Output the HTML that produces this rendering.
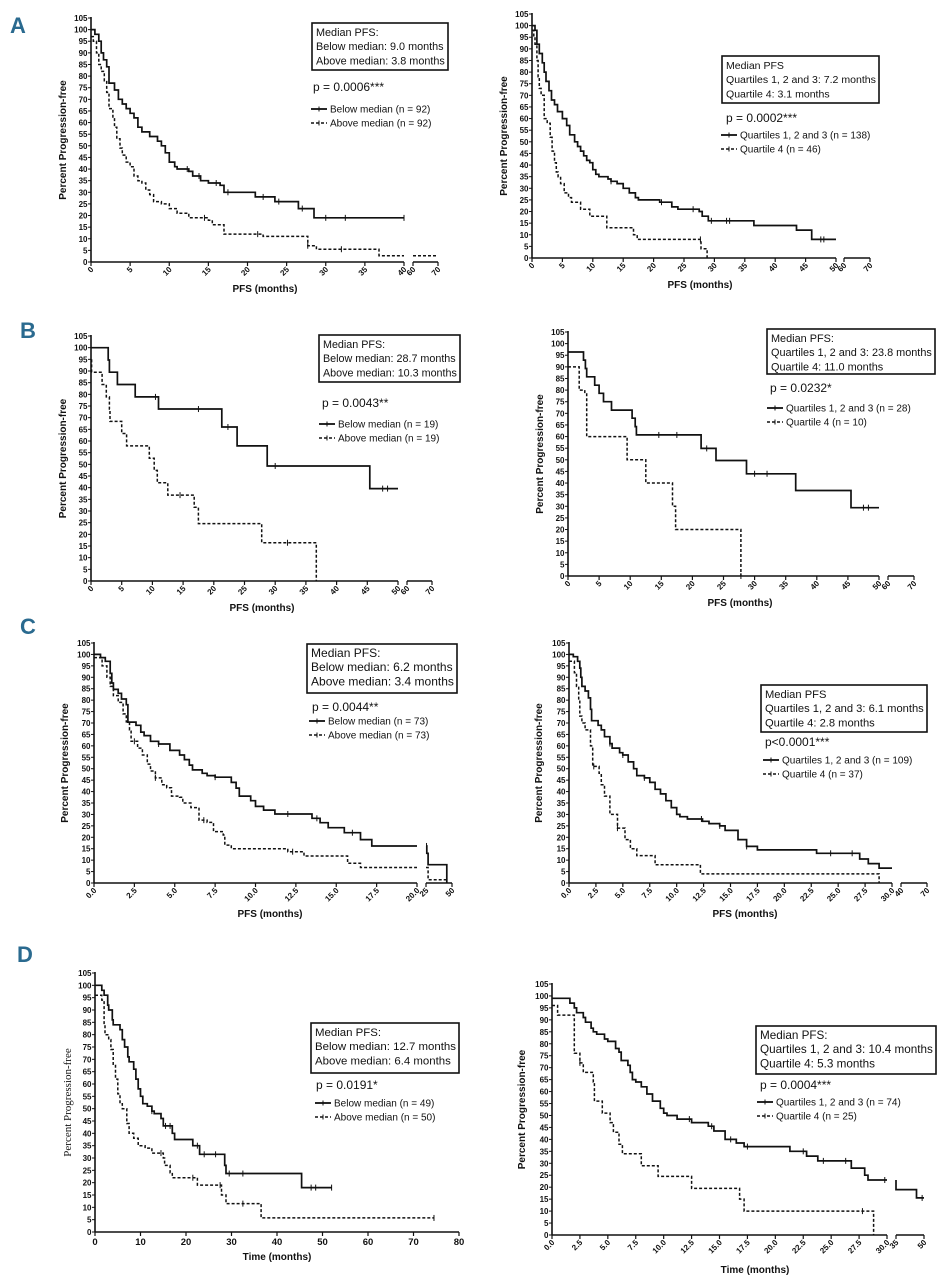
<!DOCTYPE html>
<html><head><meta charset="utf-8">
<style>
html,body{margin:0;padding:0;background:#fff;}
svg{display:block;font-family:"Liberation Sans",Arial,sans-serif;}
.tk{font-size:8px;font-weight:bold;fill:#111;}
.ttl{font-size:10px;font-weight:bold;fill:#111;}
.box{font-size:12.5px;fill:#111;}
.pv{font-size:12px;fill:#111;}
.lg{font-size:10px;fill:#111;}
.let{font-size:22px;font-weight:bold;fill:#2a6a8f;font-family:"Liberation Sans Narrow","Liberation Sans",sans-serif;}
</style></head>
<body>
<svg id="fig" width="950" height="1280" viewBox="0 0 950 1280" xmlns="http://www.w3.org/2000/svg"></svg>
<script>
// ---------- DATA (time in months, value = percent progression-free after step) ----------
const aLeftSolidT = [0,0.5,1,1.3,1.6,2,2.3,3,3.5,4,4.5,5,5.5,6,6.5,7.5,8.5,9,9.5,10,10.7,11,12.5,13,14,15,16.5,17,21,23.5,26.5,28.5,40];
const aLeftSolidS = [100,98,95,90,87,84,77,74,70,68,66,64,62,58,56,54,52,50,47,43,41,40,39,37,35,34,33,30,28,26,23,19,19];
const aLeftSolidC = [12.3,13.8,16,17.5,22,24,27,30,32.5,40];
const aLeftDashT = [0,0.3,0.7,1,1.3,1.7,2,2.3,2.8,3,3.3,3.7,4,4.5,5,5.5,6,6.5,7,7.5,8,9,10,11,12.5,15,15.5,17,22,27.7,28.8,36.8,70];
const aLeftDashS = [97,95,90,85,82,78,73,66,62,58,53,49,46,43,41,37,35,34,31,29,26,25,23,21,19,18,16,12,11,7,5.5,2.7,2.7];
const aLeftDashC = [14.5,21.3,27.7,32];

const aRightSolidT = [0,0.5,0.8,1.2,1.7,2,2.3,2.8,3.2,3.7,4.2,5,5.7,6.2,7,7.5,8,8.5,9,9.5,10,10.5,11,12.5,13,14,15,16,17,17.5,21,23,24,27.5,28,29,36.5,43.5,46,50];
const aRightSolidS = [100,98,92,88,84,80,76,72,68,66,63,60,57,53,50,48,46,44,42,41,38,36,35,34,33,32,30,28,26,25,24,22,21,20,18,16,14,12,8,8];
const aRightSolidC = [13,21.3,26.5,29.5,32,32.5,47.5,48];
const aRightDashT = [0,0.3,0.5,0.8,1,1.2,1.5,2,2.5,3,3.3,3.7,4,4.3,4.7,5.3,6,6.5,8,9.5,12,12.3,16.7,17.3,27.8,28.8];
const aRightDashS = [98,95,92,85,78,73,70,60,58,52,46,41,37,35,32,28,26,24,21,18,18,13,10,8,4,0];
const aRightDashC = [27.7];

const bLeftSolidT = [0,2.8,3,4.3,7.2,11,21.3,23.8,28.7,45.4,50];
const bLeftSolidS = [100,94.7,89.5,84.2,78.9,73.7,66,57.9,49.3,39.6,39.6];
const bLeftSolidC = [10.5,17.5,22.3,30,47.5,48.3];
const bLeftDashT = [0,0.1,1.8,2.5,3,3.1,5,5.8,9.5,10.3,10.8,12.5,16.8,17.5,27.8,36.7];
const bLeftDashS = [94.7,89.5,84.2,78.9,73.7,68.4,63.2,57.9,52.6,47.4,42.1,36.8,31.6,24.6,16.4,0];
const bLeftDashC = [14.5,32];

const bRightSolidT = [0,2.5,2.8,3,4.3,5,5.7,7,10.3,10.8,11,21.4,23.8,28.7,36.6,45.5,50];
const bRightSolidS = [96.4,92.9,89.3,85.7,82.1,78.6,75,71.4,67.9,64.3,60.7,54.9,49.7,44,36.8,29.4,29.4];
const bRightSolidC = [14.6,17.5,22.3,30,32,47.5,48.3];
const bRightDashT = [0,1.8,2.7,3,9.5,12.5,16.8,17.3,27.8];
const bRightDashS = [90,80,79,60,50,40,30,20,0];
const bRightDashC = [27.8];

const cLeftSolidT = [0,0.4,0.7,1,1.1,1.2,1.5,1.7,2,2.1,2.6,2.9,3.1,3.5,4,4.7,5.3,5.6,5.9,6.1,6.7,7,7.5,8.5,8.8,9,9.7,10,10.5,11.2,13.5,14,14.5,15.5,16.5,17.2,25.8,27,29,45];
const cLeftSolidS = [100,98.6,97,91.7,87.5,84.7,83,80.5,78,70.4,69,66,64.5,62,60.8,58,56,54,51.6,49.5,48,47,46.3,44,41.5,38,36,33.5,31.9,30.2,28.3,26.4,24.2,22,19,16.2,13,8,8,0];
const cLeftSolidC = [4,7.5,12,13.8,16,25.5];
const cLeftDashT = [0,0.5,0.8,1,1.2,1.5,1.8,2,2.2,2.3,2.7,3,3.3,3.5,3.8,4.2,4.5,4.8,5.3,5.5,6,6.5,7,7.4,8,8.1,8.5,12,13,15.7,16.5,27,46];
const cLeftDashS = [98.6,95,90,86,82,79,74,70.5,67,62,59,56,52,49,46,43,41.7,38,37.5,35,33,27.5,26.5,22.5,21,16.6,15,13.7,11.8,8.6,6.8,1.4,1.4];
const cLeftDashC = [2.5,3.8,6.8,12.3];

const cRightSolidT = [0,0.4,0.8,1,1.1,1.2,1.5,1.8,2,2.1,2.7,3,3.3,3.8,4,4.7,5,5.5,6,6.3,7,7.5,8,8.5,9,9.5,10,10.3,11,12.4,13,14,14.5,15.7,16.5,17.5,23,27,27.8,28.8,30];
const cRightSolidS = [100,99,97,94,90,86,84,81,76,71,69,67,64,61,59,57,56,53,50,47,46,44,41,39,36,33,30,29,28,27,26,25,23,19,16,14.5,13,10.5,8.5,6.5,6.5];
const cRightSolidC = [3.8,5,7,12.3,14,16.5,24.3,26.3];
const cRightDashT = [0,0.5,0.7,0.9,1,1.2,1.5,2,2.2,2.8,3,3.3,3.8,4.5,5.2,5.7,6.3,8,12.2,28.8];
const cRightDashS = [97,92,86,80,73,70,67,60,51,48,43,38,30,24,19,15,12,8,4,0];
const cRightDashC = [2.3,4.5];

const dLeftSolidT = [0,1.5,2,2.8,3,3.8,4,5.5,6,6.5,7.2,7.5,8.5,9,9.5,10,10.5,11.5,12.5,13,14.5,15,17,17.5,21.5,23,28.5,28.8,45.4,52];
const dLeftSolidS = [100,98,96,92,90,86,84,82,78,75,71,69,66,62,58,55,52,51,49,48,46,43,40,37.5,35,31.5,27,23.7,18,18];
const dLeftSolidC = [12.5,15.5,16.5,22.5,24,26.5,29.5,32.5,47.5,48.5,52];
const dLeftDashT = [0,1.5,2,2.2,3,3.5,4,4.5,5,5.5,6,7,7.5,8.5,9.5,11,12.5,15,15.3,16.5,17,22.5,27.8,28.8,36.5,74.5];
const dLeftDashS = [96,94,84,80,78,74,68,62,56,52,50,44,40,38,35,34,32,30,27,24,22,19,15,11.5,5.7,5.7];
const dLeftDashC = [14.5,21.5,27.5,32.5,74.5];

const dRightSolidT = [0,1.6,2,2.2,2.8,3,3.5,3.7,4,4.7,5,5.7,6,6.2,6.8,7,7.2,7.5,8,8.5,9,9.7,10,10.3,11.2,12.5,14,14.5,15.5,16.5,17.2,21.3,22.8,23.8,26.8,28,28.3,30.1,46,50];
const dRightSolidS = [99,97,95,93,91,89,86.5,85,84,82,81,78,76.5,73,71,68,65,64,62,59,56,53,51,50,48.5,47,45.5,43.5,40,38.5,37,35,33,31,28,25,23,19,15.5,15.5];
const dRightSolidC = [12.3,14.3,16,17.5,22.5,24.3,26.3,29.8,49];
const dRightDashT = [0,0.5,2,2.5,2.8,3.7,3.8,4.5,5.2,5.5,6,6.3,8,9.5,12.5,16.8,17.2,28.8];
const dRightDashS = [96,92,76,72,68,64,56,51,47,43,38,34,29,24.5,19.5,15,10,0];
const dRightDashC = [2.5,27.8];

// tick label arrays
const yTicks105 = [0,5,10,15,20,25,30,35,40,45,50,55,60,65,70,75,80,85,90,95,100,105];
const xTicksA = [0,5,10,15,20,25,30,35,40];
const xTicksAB2 = [60,70];
const xTicks50 = [0,5,10,15,20,25,30,35,40,45,50];
const xTicksC1 = [0,2.5,5,7.5,10,12.5,15,17.5,20];
const xTicksC2 = [25,50];
const xTicks30 = [0,2.5,5,7.5,10,12.5,15,17.5,20,22.5,25,27.5,30];
const xTicksCR2 = [40,70];
const xTicksDR2 = [35,50];
const xTicksD = [0,10,20,30,40,50,60,70,80];

// ---------- RENDER ----------
const NS = "http://www.w3.org/2000/svg";
const svg = document.getElementById('fig');
function mk(tag, attrs, parent){
  const e = document.createElementNS(NS, tag);
  for (const k in attrs) e.setAttribute(k, attrs[k]);
  (parent||svg).appendChild(e);
  return e;
}
function txt(str, attrs, parent){ const t = mk('text', attrs, parent); t.textContent = str; return t; }

function makeScales(P){
  const sy = v => P.y0 - (v/105)*(P.y0 - P.y105);
  const sx = t => {
    if (t <= P.b1 || !P.s2) return P.ax + (t/P.b1)*(P.x1 - P.ax);
    if (t < P.s2[0]) return P.s2[2];
    return P.s2[2] + (t - P.s2[0])/(P.s2[1]-P.s2[0])*(P.s2[3]-P.s2[2]);
  };
  return {sx, sy};
}
function stepPath(T, S, P, sc){
  let d = 'M' + sc.sx(T[0]).toFixed(1) + ' ' + sc.sy(S[0]).toFixed(1);
  for (let i=1;i<T.length;i++){
    const prevT = T[i-1], t = T[i], v = S[i-1];
    if (P.s2 && prevT <= P.b1 && t > P.b1){
      d += ' H' + sc.sx(P.b1).toFixed(1);
      d += ' M' + sc.sx(Math.min(P.s2[0], t)).toFixed(1) + ' ' + sc.sy(v).toFixed(1);
    }
    d += ' H' + sc.sx(t).toFixed(1) + ' V' + sc.sy(S[i]).toFixed(1);
  }
  return d;
}
function valAt(T,S,t){ let v=S[0]; for(let i=0;i<T.length;i++){ if(T[i]<=t) v=S[i]; } return v; }

function panel(P){
  const g = mk('g', {});
  
  
  const sc = makeScales(P);
  const ya = mk('line', {x1:P.ax, y1:P.y0, x2:P.ax, y2:P.y105-1, stroke:'#111','stroke-width':1.6}, g);
   
  P.yt.forEach(v=>{
    mk('line',{x1:P.ax-3,y1:sc.sy(v),x2:P.ax,y2:sc.sy(v),stroke:'#111','stroke-width':1}, g);
    const t = txt(String(v), {x:P.ax-3.5, y:sc.sy(v)+3, 'text-anchor':'end', class:'tk'}, g);
     
  });
  const xa = mk('line', {x1:P.ax, y1:P.y0, x2:P.x1, y2:P.y0, stroke:'#111','stroke-width':1.6}, g);
   
  const drawXT = (v, lbl) => {
    const x = sc.sx(v);
    mk('line',{x1:x,y1:P.y0,x2:x,y2:P.y0+4,stroke:'#111','stroke-width':1.2}, g);
    let t;
    if (P.rot){
      t = txt(lbl, {x:x+3, y:P.y0+8, 'text-anchor':'end', class:'tk', transform:`rotate(-45 ${x+3} ${P.y0+8})`}, g);
    } else {
      t = txt(lbl, {x:x, y:P.y0+13, 'text-anchor':'middle', class:'tk', style:'font-size:9.5px'}, g);
    }
     
  };
  P.xt1.forEach(v=>drawXT(v, P.fmt ? v.toFixed(1) : String(v)));
  if (P.s2){
    const xa2 = mk('line', {x1:P.s2[2], y1:P.y0, x2:P.s2[3], y2:P.y0, stroke:'#111','stroke-width':1.6}, g);
     
    P.xt2.forEach(v=>drawXT(v, String(v)));
  }
  const yl = txt('Percent Progression-free', {x:0,y:0,'text-anchor':'middle',class:'ttl',
    transform:`translate(${P.ylx} ${(P.y0+P.y105)/2}) rotate(-90)`, style:P.serifY?'font-family:"Liberation Serif",serif;font-weight:normal;font-size:11px':''}, g);
   
  const xl = txt(P.xtitle, {x:P.xtx, y:P.xty, 'text-anchor':'middle', class:'ttl'}, g);
   
  P.series.forEach(s=>{
    const p = mk('path', {d:stepPath(s.T, s.S, P, sc), fill:'none', stroke:'#111','stroke-width':s.dash?1.5:1.7,
      'stroke-dasharray': s.dash ? '3 2' : 'none'}, g);
    
    
    s.C.forEach(c=>{
      const x = sc.sx(c), y = sc.sy(valAt(s.T,s.S,c));
      const m = mk('line',{x1:x,y1:y-3,x2:x,y2:y+3,stroke:'#111','stroke-width':1}, g);
       
    });
  });
  const bx = mk('rect',{x:P.box[0],y:P.box[1],width:P.box[2]-P.box[0],height:P.box[3]-P.box[1],fill:'#fff',stroke:'#111','stroke-width':1.6}, g);
   
  const avail = P.box[2]-P.box[0]-7;
  const lines = P.boxLines.map((l,i)=>{
    const t = txt(l, {x:P.box[0]+4, y:P.box[1]+13+i*14.2, class:'box'}, g);
     
    return t;
  });
  let maxLen = 0;
  lines.forEach(t=>{ maxLen = Math.max(maxLen, t.getComputedTextLength()); });
  if (maxLen > avail){
    const fs = (12.5*avail/maxLen).toFixed(2);
    lines.forEach(t=>{ t.style.fontSize = fs + 'px'; });
  }
  const pt = txt(P.p, {x:P.px, y:P.py, class:'pv'}, g);
   
  P.leg.forEach((l,i)=>{
    const y = P.ly + i*14;
    const lg = mk('g',{}, g);
    
    
    mk('line',{x1:P.lx,y1:y,x2:P.lx+16,y2:y,stroke:'#111','stroke-width':i?1.5:1.8,'stroke-dasharray':i?'3 2':'none'}, lg);
    mk('line',{x1:P.lx+8,y1:y-2.5,x2:P.lx+8,y2:y+2.5,stroke:'#111','stroke-width':1}, lg);
    txt(l, {x:P.lx+19, y:y+3.5, class:'lg'}, lg);
  });
}

const panels = [
 {name:'panel-a-left', ax:91, y0:262, y105:18, b1:40, x1:404, s2:[60,70,413,438], rot:true, yt:yTicks105, xt1:xTicksA, xt2:xTicksAB2,
  ylx:66, xtitle:'PFS (months)', xtx:265, xty:292,
  series:[{name:'curve-below-median',T:aLeftSolidT,S:aLeftSolidS,C:aLeftSolidC},{name:'curve-above-median',T:aLeftDashT,S:aLeftDashS,C:aLeftDashC,dash:true}],
  box:[312,23,448,70], boxLines:['Median PFS:','Below median: 9.0 months','Above median: 3.8 months'], p:'p = 0.0006***', px:313, py:91,
  leg:['Below median (n = 92)','Above median (n = 92)'], lx:311, ly:109,
 },
 {name:'panel-a-right', ax:532, y0:258, y105:14, b1:50, x1:836, s2:[60,70,844,870], rot:true, yt:yTicks105, xt1:xTicks50, xt2:xTicksAB2,
  ylx:507, xtitle:'PFS (months)', xtx:700, xty:288,
  series:[{name:'curve-quartiles-1-3',T:aRightSolidT,S:aRightSolidS,C:aRightSolidC},{name:'curve-quartile-4',T:aRightDashT,S:aRightDashS,C:aRightDashC,dash:true}],
  box:[722,56,879,103], boxLines:['Median PFS','Quartiles 1, 2 and 3: 7.2 months','Quartile 4: 3.1 months'], p:'p = 0.0002***', px:726, py:122,
  leg:['Quartiles 1, 2 and 3 (n = 138)','Quartile 4 (n = 46)'], lx:721, ly:135,
 },
 {name:'panel-b-left', ax:91, y0:581, y105:336, b1:50, x1:398, s2:[60,70,407,432], rot:true, yt:yTicks105, xt1:xTicks50, xt2:xTicksAB2,
  ylx:66, xtitle:'PFS (months)', xtx:262, xty:611,
  series:[{name:'curve-below-median',T:bLeftSolidT,S:bLeftSolidS,C:bLeftSolidC},{name:'curve-above-median',T:bLeftDashT,S:bLeftDashS,C:bLeftDashC,dash:true}],
  box:[319,335,460,382], boxLines:['Median PFS:','Below median: 28.7 months','Above median: 10.3 months'], p:'p = 0.0043**', px:322, py:407,
  leg:['Below median (n = 19)','Above median (n = 19)'], lx:319, ly:424,
 },
 {name:'panel-b-right', ax:568, y0:576, y105:332, b1:50, x1:879, s2:[60,70,888,914], rot:true, yt:yTicks105, xt1:xTicks50, xt2:xTicksAB2,
  ylx:543, xtitle:'PFS (months)', xtx:740, xty:606,
  series:[{name:'curve-quartiles-1-3',T:bRightSolidT,S:bRightSolidS,C:bRightSolidC},{name:'curve-quartile-4',T:bRightDashT,S:bRightDashS,C:bRightDashC,dash:true}],
  box:[767,329,935,374], boxLines:['Median PFS:','Quartiles 1, 2 and 3: 23.8 months','Quartile 4: 11.0 months'], p:'p = 0.0232*', px:770, py:392,
  leg:['Quartiles 1, 2 and 3 (n = 28)','Quartile 4 (n = 10)'], lx:767, ly:408,
 },
 {name:'panel-c-left', ax:94, y0:883, y105:643, b1:20, x1:417, s2:[25,50,426,452], rot:true, fmt:true, yt:yTicks105, xt1:xTicksC1, xt2:xTicksC2,
  ylx:68, xtitle:'PFS (months)', xtx:270, xty:917,
  series:[{name:'curve-below-median',T:cLeftSolidT,S:cLeftSolidS,C:cLeftSolidC},{name:'curve-above-median',T:cLeftDashT,S:cLeftDashS,C:cLeftDashC,dash:true}],
  box:[307,644,457,693], boxLines:['Median PFS:','Below median: 6.2 months','Above median: 3.4 months'], p:'p = 0.0044**', px:312, py:711,
  leg:['Below median (n = 73)','Above median (n = 73)'], lx:309, ly:721,
 },
 {name:'panel-c-right', ax:569, y0:883, y105:643, b1:30, x1:892, s2:[40,70,901,927], rot:true, fmt:true, yt:yTicks105, xt1:xTicks30, xt2:xTicksCR2,
  ylx:542, xtitle:'PFS (months)', xtx:745, xty:917,
  series:[{name:'curve-quartiles-1-3',T:cRightSolidT,S:cRightSolidS,C:cRightSolidC},{name:'curve-quartile-4',T:cRightDashT,S:cRightDashS,C:cRightDashC,dash:true}],
  box:[761,685,927,732], boxLines:['Median PFS','Quartiles 1, 2 and 3: 6.1 months','Quartile 4: 2.8 months'], p:'p<0.0001***', px:765, py:746,
  leg:['Quartiles 1, 2 and 3 (n = 109)','Quartile 4 (n = 37)'], lx:763, ly:760,
 },
 {name:'panel-d-left', ax:95, y0:1232, y105:973, b1:80, x1:459, s2:null, rot:false, serifY:true, yt:yTicks105, xt1:xTicksD, xt2:[],
  ylx:71, xtitle:'Time (months)', xtx:277, xty:1260,
  series:[{name:'curve-below-median',T:dLeftSolidT,S:dLeftSolidS,C:dLeftSolidC},{name:'curve-above-median',T:dLeftDashT,S:dLeftDashS,C:dLeftDashC,dash:true}],
  box:[311,1023,459,1073], boxLines:['Median PFS:','Below median: 12.7 months','Above median: 6.4 months'], p:'p = 0.0191*', px:316, py:1089,
  leg:['Below median (n = 49)','Above median (n = 50)'], lx:315, ly:1103,
 },
 {name:'panel-d-right', ax:552, y0:1235, y105:984, b1:30, x1:887, s2:[35,50,896,924], rot:true, fmt:true, yt:yTicks105, xt1:xTicks30, xt2:xTicksDR2,
  ylx:525, xtitle:'Time (months)', xtx:755, xty:1273,
  series:[{name:'curve-quartiles-1-3',T:dRightSolidT,S:dRightSolidS,C:dRightSolidC},{name:'curve-quartile-4',T:dRightDashT,S:dRightDashS,C:dRightDashC,dash:true}],
  box:[756,1026,936,1074], boxLines:['Median PFS:','Quartiles 1, 2 and 3: 10.4 months','Quartile 4: 5.3 months'], p:'p = 0.0004***', px:760, py:1089,
  leg:['Quartiles 1, 2 and 3 (n = 74)','Quartile 4 (n = 25)'], lx:757, ly:1102,
 },
];
panels.forEach(panel);

[['A',10,33],['B',20,338],['C',20,634],['D',17,962]].forEach(([l,x,y])=>{
  const t = txt(l, {x:x, y:y, class:'let'});
  
  
});
</script>
</body></html>
